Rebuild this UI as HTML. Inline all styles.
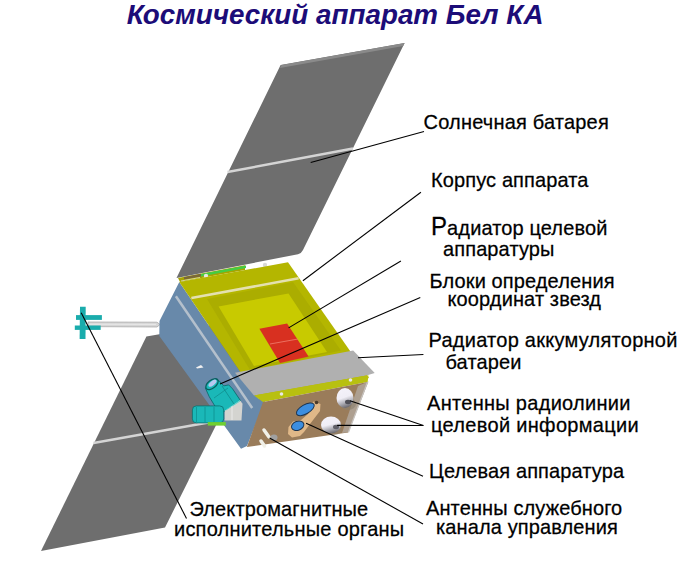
<!DOCTYPE html>
<html><head><meta charset="utf-8">
<style>
html,body{margin:0;padding:0;background:#fff;}
body{width:700px;height:565px;overflow:hidden;position:relative;}
svg{position:absolute;left:0;top:0;}
text{font-family:"Liberation Sans",sans-serif;}
</style></head>
<body>
<svg width="700" height="565" viewBox="0 0 700 565">
<defs>
<linearGradient id="ant" x1="0.2" y1="0" x2="0.5" y2="1">
<stop offset="0" stop-color="#f4f2fa"/>
<stop offset="0.5" stop-color="#f0eef6"/>
<stop offset="0.75" stop-color="#b0b0b8"/>
<stop offset="1" stop-color="#6c6a70"/>
</linearGradient>
</defs>
<rect width="700" height="565" fill="#fff"/>
<!-- title -->
<text x="126.8" y="24" font-size="27.8" font-weight="bold" font-style="italic" fill="#1c0c78">Космический аппарат Бел КА</text>

<!-- top solar panel -->
<path d="M280.6,65 L404.6,43 L303,250 Q301.5,253.3 298,254.2 L176.5,278 Z" fill="#6e6e6e"/>
<polygon points="281.5,65 404.6,43 403.2,46 280,68" fill="#8a8a8a"/>
<line x1="227.5" y1="172" x2="353" y2="148.5" stroke="#d4d4d4" stroke-width="2.4"/>

<!-- bottom solar panel -->
<polygon points="146.4,336.4 271,315 165,527.6 41,551" fill="#6e6e6e"/>
<line x1="93.5" y1="443" x2="214" y2="421.5" stroke="#d4d4d4" stroke-width="2.4"/>

<!-- boom -->
<polygon points="88,322 157,322.2 160,324.5 157,327 88,326.6" fill="#d6d6d6" stroke="#a0a0a0" stroke-width="0.7"/>
<line x1="89" y1="324.2" x2="156" y2="324.4" stroke="#eeeeee" stroke-width="0.8"/>
<!-- magnetometer -->
<g fill="#1aacac">
<polygon points="80,306.8 85.7,306.8 85.5,339 79.6,339"/>
<polygon points="76,315.1 101.9,315.1 101.9,319.9 76,319.9"/>
<polygon points="74.8,325.5 100.7,325.5 100.7,329.9 74.8,329.9"/>
</g>

<!-- body: blue face -->
<polygon points="179.3,281.9 159.5,321 159.3,336 241,448.8 247,446 265,401 258,398" fill="#6889aa"/>
<line x1="175.9" y1="296.3" x2="252.2" y2="408" stroke="#b4c0cc" stroke-width="2.5"/>
<polygon points="196,367.5 201,365 203.5,367.5 197,368.5" fill="#f0f0f0"/>

<!-- strip under panel -->
<polygon points="178,278 245,265.2 245,270 180,282" fill="#a8a400"/>
<polygon points="201,274 246,265.6 246,268 201,276.4" fill="#44cc44"/>
<polygon points="184,277 201,273.8 201,276.4 184,279.6" fill="#7a6838"/>
<line x1="181" y1="281" x2="200" y2="277.5" stroke="#d8d8b0" stroke-width="0.9"/>
<circle cx="206" cy="276" r="2.2" fill="#e8e8e0"/>
<circle cx="265" cy="265" r="2.2" fill="#d8d8d8"/>

<!-- yellow top face -->
<polygon points="179.3,281.9 288,262.3 369,378 258,398" fill="#b4b600"/>
<!-- darker bevel band -->
<polygon points="207,299 293,282 341,350.5 250,370" fill="#abad00"/>
<!-- inner lighter -->
<polygon points="218.6,306.4 288.5,293.5 327,352 254,366" fill="#c8ca00"/>
<line x1="191.4" y1="298" x2="298.6" y2="278.3" stroke="#e4e0b0" stroke-width="2.5"/>
<!-- red -->
<polygon points="259.4,328.7 287.1,323.6 308.6,356.4 280,363" fill="#d83020"/>
<line x1="270" y1="344" x2="298" y2="339" stroke="#f08070" stroke-width="0.8"/>

<!-- gray bar -->
<polygon points="235,372.8 353.2,350.5 374.7,373.1 366.4,375.5 254,395.6" fill="#b0b0b0"/>
<polygon points="254,395.6 366.4,375.5 368.5,375.5 367.6,382 263,402" fill="#b8c010"/>
<circle cx="281.5" cy="394" r="1.8" fill="#e8e8e8"/>
<circle cx="350.5" cy="380" r="1.8" fill="#e8e8e8"/>

<!-- brown face -->
<polygon points="263,402 367.6,382 348,432.4 246.9,447" fill="#9a7c5a"/>
<polygon points="368.5,381.5 348.5,432.2 342,433 358,386" fill="#ad9f90"/>
<polygon points="367.5,382 366,386 350,428 348.5,432.2" fill="none" stroke="#c8c4c0" stroke-width="1.2"/>
<!-- lens mount -->
<path d="M313.5,401.5 L320.5,404 L320,411 L310,424 L304,432 L300,436 L292,437.5 L288,434 L288.5,427 L293,421.5 L301,420 L308,414 L310,407 Z" fill="#e0b888"/>
<ellipse cx="305.3" cy="409.3" rx="10" ry="4.6" transform="rotate(-30 305.3 409.3)" fill="#3c8ee0" stroke="#1c3450" stroke-width="1"/>
<ellipse cx="297.7" cy="425.7" rx="6.4" ry="4.5" transform="rotate(-20 297.7 425.7)" fill="#3c8ee0" stroke="#1c3450" stroke-width="1"/>
<circle cx="316.5" cy="402.5" r="1.8" fill="#4a3a2a"/>
<!-- antennas -->
<ellipse cx="348" cy="404" rx="8" ry="6" fill="#8a8070" opacity="0.6"/>
<ellipse cx="334" cy="430" rx="8" ry="5" fill="#8a8070" opacity="0.5"/>
<ellipse cx="345" cy="398" rx="8.5" ry="10" fill="url(#ant)"/>
<ellipse cx="348" cy="402" rx="3" ry="2.2" fill="#505058"/>
<ellipse cx="331" cy="425" rx="10" ry="8.5" fill="url(#ant)"/>
<ellipse cx="336" cy="427" rx="3" ry="2.2" fill="#606068"/>
<!-- service antenna -->
<line x1="264" y1="430" x2="269" y2="437" stroke="#f0f0e8" stroke-width="3.5" stroke-linecap="round"/>
<line x1="261" y1="441" x2="264.5" y2="446" stroke="#f0f0e8" stroke-width="3.5" stroke-linecap="round"/>
<ellipse cx="274" cy="437.5" rx="3.5" ry="3" fill="#a0a0a0"/>

<!-- star trackers -->
<polygon points="205.3,387.9 214.8,379.4 219.2,380.9 223.7,385.9 228.7,384.9 232.6,388.9 240.6,400.8 226.7,411.7 217.7,410.7 209.3,396.8" fill="#1ab8b8" stroke="#0a6e6e" stroke-width="0.9"/>
<line x1="222" y1="386" x2="234" y2="404" stroke="#0e8a8a" stroke-width="0.8"/>
<line x1="214" y1="398" x2="228" y2="388" stroke="#0e8a8a" stroke-width="0.7"/>
<ellipse cx="212" cy="384.2" rx="7.2" ry="4" transform="rotate(-38 212 384.2)" fill="#1ab8b8" stroke="#0a5e5e" stroke-width="1.3"/>
<ellipse cx="212.5" cy="383.2" rx="4.8" ry="2.2" transform="rotate(-38 212.5 383.2)" fill="#b8c8f0"/>
<polygon points="224.7,410.7 240,400.3 242.5,403.7 241.5,420.6 224.7,420.6" fill="#d4d4d0"/>
<line x1="226" y1="410" x2="240" y2="401" stroke="#40d0c8" stroke-width="0.8"/>
<line x1="232" y1="406" x2="232" y2="420" stroke="#f0f0f0" stroke-width="0.8"/>
<rect x="192.4" y="405.9" width="31.3" height="17" rx="4" fill="#1ab8b8" stroke="#0a7070" stroke-width="0.8"/>
<g stroke="#0e9090" stroke-width="0.8"><line x1="196.5" y1="407" x2="196.5" y2="422"/><line x1="205" y1="407" x2="205" y2="422"/><line x1="214" y1="407" x2="214" y2="422"/></g>
<rect x="207.8" y="422.1" width="18" height="3.5" fill="#70d030"/>

<!-- leader lines -->
<g stroke="#000" stroke-width="1.1" fill="none">
<line x1="310.7" y1="162.5" x2="424" y2="131.5"/>
<line x1="302.9" y1="280.7" x2="420.9" y2="192.2"/>
<line x1="288.6" y1="327.9" x2="400.9" y2="261"/>
<line x1="220" y1="384" x2="420.3" y2="297.4"/>
<line x1="358" y1="357.7" x2="423.4" y2="354.5"/>
<line x1="350" y1="400.7" x2="423.4" y2="425.5"/>
<line x1="337.1" y1="425.4" x2="423.4" y2="425.5"/>
<line x1="306.1" y1="423.3" x2="423" y2="476.2"/>
<line x1="269.6" y1="437.9" x2="423" y2="524"/>
<line x1="81.2" y1="312.7" x2="186.5" y2="518.5"/>
</g>

<!-- labels -->
<g font-size="20" fill="#000" stroke="#000" stroke-width="0.25" letter-spacing="0.12">
<text transform="translate(423.5 129) scale(1 1.05)" letter-spacing="0.2">Солнечная батарея</text>
<text transform="translate(431 187.2) scale(1 1.05)">Корпус аппарата</text>
<text transform="translate(431 235.3) scale(1 1.05)"><tspan font-size="24">Р</tspan>адиатор целевой</text>
<text transform="translate(443 256) scale(1 1.05)">аппаратуры</text>
<text transform="translate(429.5 287.7) scale(1 1.05)">Блоки определения</text>
<text transform="translate(447.5 306.2) scale(1 1.05)">координат звезд</text>
<text transform="translate(428.5 347.2) scale(1 1.05)" letter-spacing="0.26">Радиатор аккумуляторной</text>
<text transform="translate(445.5 368.8) scale(1 1.05)">батареи</text>
<text transform="translate(427 410.4) scale(1 1.05)" letter-spacing="0.3">Антенны радиолинии</text>
<text transform="translate(431 431.6) scale(1 1.05)" letter-spacing="0.32">целевой информации</text>
<text transform="translate(429 478) scale(1 1.05)">Целевая аппаратура</text>
<text transform="translate(426 514.8) scale(1 1.05)">Антенны служебного</text>
<text transform="translate(436 534.2) scale(1 1.05)">канала управления</text>
<text transform="translate(189.5 516.1) scale(1 1.05)">Электромагнитные</text>
<text transform="translate(174 535.7) scale(1 1.05)" letter-spacing="0.22">исполнительные органы</text>
</g>
</svg>
</body></html>
